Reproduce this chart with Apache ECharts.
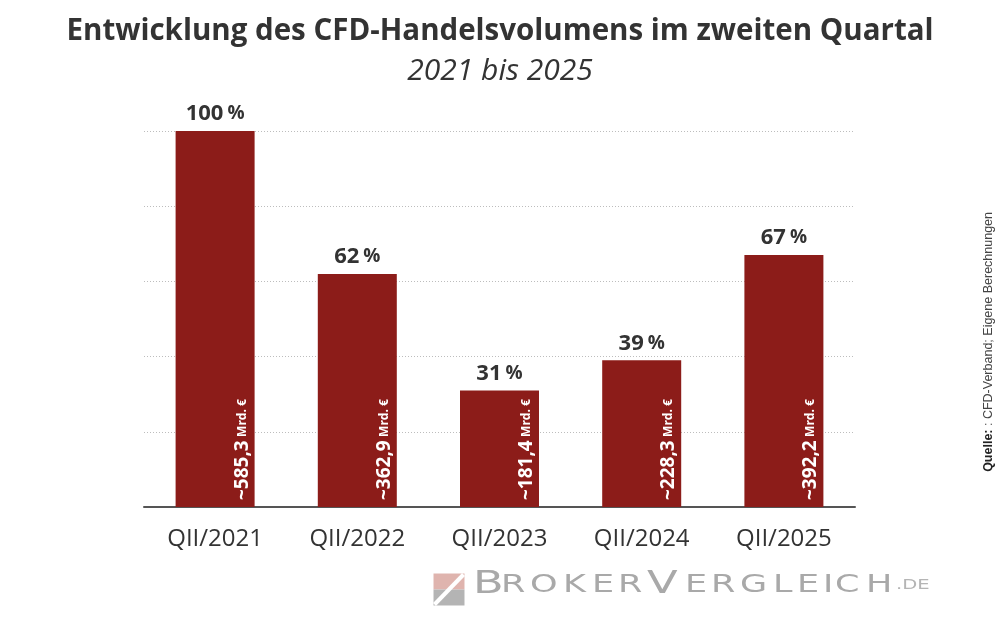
<!DOCTYPE html>
<html>
<head>
<meta charset="utf-8">
<title>CFD-Handelsvolumen QII</title>
<script src="https://cdn.jsdelivr.net/npm/echarts@6/dist/echarts.min.js"></script>
<style>
  html, body { margin: 0; padding: 0; background: #fff; }
  #chart { width: 1000px; height: 625px; }
</style>
</head>
<body>
<div id="chart"></div>
<script>
// Daten
var quarters = ['QII/2021', 'QII/2022', 'QII/2023', 'QII/2024', 'QII/2025']
var percent = [100, 62, 31, 39, 67]          // relativ zu QII/2021
var volume = ['585,3', '362,9', '181,4', '228,3', '392,2'] // Mrd. €

var barColor = '#8c1c19'
var textColor = '#333'
var font = 'Open Sans'

var chart = echarts.init(document.getElementById('chart'))

// Logo-Buchstaben mit festen Breiten (Schrift ist breit laufend), danach horizontal gestreckt
var logoScale = 1.4
var logoLetters = [
  ['B', 'big', 28], ['R', 's', 29], ['O', 's', 33], ['K', 's', 29], ['E', 's', 26], ['R', 's', 29],
  ['V', 'big', 38], ['E', 's', 26], ['R', 's', 29], ['G', 's', 33], ['L', 's', 24], ['E', 's', 26],
  ['I', 's', 12], ['C', 's', 31], ['H', 's', 30]
]
var logoRich = {
  de: { fontFamily: 'DejaVu Sans', fill: '#b5b5b5', fontSize: 14 }
}
var logoText = logoLetters.map(function (l, i) {
  var key = 'l' + i
  logoRich[key] = {
    fontFamily: 'DejaVu Sans',
    fill: '#a9a9a9',
    fontSize: l[1] === 'big' ? 32 : 25,
    width: l[2] / logoScale
  }
  return '{' + key + '|' + l[0] + '}'
}).join('') + '{de|.DE}'

chart.setOption({
  backgroundColor: '#fff',
  animation: false,
  title: [{
    text: 'Entwicklung des CFD-Handelsvolumens im zweiten Quartal',
    left: 'center',
    top: 12,
    textStyle: { fontFamily: font, fontSize: 29.5, fontWeight: 'bold', color: textColor }
  }, {
    text: '2021 bis 2025',
    left: 'center',
    top: 51,
    textStyle: { fontFamily: font, fontSize: 30, fontStyle: 'italic', fontWeight: 'normal', color: textColor }
  }],
  grid: {
    left: 144,
    right: 145,
    top: 131,
    bottom: 118
  },
  xAxis: {
    type: 'category',
    data: quarters,
    axisTick: { show: false },
    axisLine: { lineStyle: { color: '#555', width: 2 } },
    axisLabel: {
      fontFamily: font,
      fontSize: 24,
      color: textColor,
      margin: 20
    }
  },
  yAxis: {
    type: 'value',
    min: 0,
    max: 100,
    interval: 20,
    axisLabel: { show: false },
    axisLine: { show: false },
    axisTick: { show: false },
    splitLine: { lineStyle: { color: '#bdbdbd', type: [1, 2], width: 1 } }
  },
  series: [{
    type: 'bar',
    data: percent,
    barWidth: 79,
    itemStyle: { color: barColor },
    label: {
      show: true,
      position: 'top',
      distance: 6,
      formatter: function (p) { return '{v|' + p.value + '}{p|%}' },
      rich: {
        v: { fontFamily: font, fontSize: 22, fontWeight: 'bold', color: textColor },
        p: { fontFamily: font, fontSize: 19, fontWeight: 'bold', color: textColor, padding: [0, 0, 0, 4] }
      }
    }
  }, {
    // Volumen im Balken, gedreht
    type: 'bar',
    data: percent,
    barWidth: 79,
    barGap: '-100%',
    silent: true,
    itemStyle: { color: 'transparent' },
    label: {
      show: true,
      position: 'insideBottom',
      distance: 7,
      rotate: 90,
      align: 'left',
      verticalAlign: 'middle',
      offset: [0, 27],
      formatter: function (p) { return '{n|~' + volume[p.dataIndex] + '} {m|Mrd. €}' },
      rich: {
        n: { fontFamily: font, fontSize: 19, fontWeight: 'bold', color: '#fff' },
        m: { fontFamily: font, fontSize: 12, fontWeight: 'bold', color: '#fff' }
      }
    }
  }],
  graphic: [{
    type: 'text',
    left: 982,
    top: 212,
    rotation: Math.PI / 2,
    style: {
      text: '{b|Quelle:} : CFD-Verband; Eigene Berechnungen',
      fill: '#444',
      font: '12.5px "Liberation Sans"',
      rich: {
        b: { fontFamily: 'Liberation Sans', fontSize: 12.5, fontWeight: 'bold', fill: '#222' }
      }
    }
  }, {
    type: 'group',
    left: 432,
    top: 572,
    children: [
      { type: 'rect', shape: { x: 0, y: 0, width: 31, height: 16 }, style: { fill: '#dfb4ae' } },
      { type: 'rect', shape: { x: 0, y: 16, width: 31, height: 16 }, style: { fill: '#b4b4b4' } },
      { type: 'line', shape: { x1: 1, y1: 31, x2: 30, y2: 1 }, style: { stroke: '#fff', lineWidth: 4 } }
    ]
  }, {
    type: 'text',
    x: 473,
    y: 569,
    scaleX: logoScale,
    style: {
      text: logoText,
      rich: logoRich,
      verticalAlign: 'top'
    }
  }]
})
</script>
</body>
</html>
